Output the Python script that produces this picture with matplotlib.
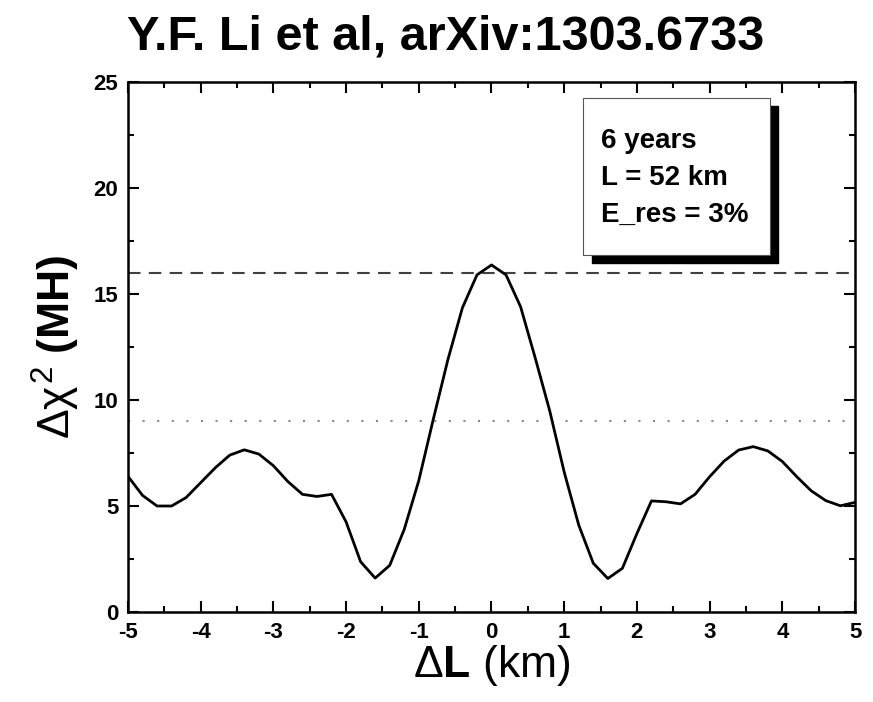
import matplotlib
matplotlib.use("Agg")
import matplotlib.pyplot as plt
from matplotlib.patches import Rectangle
from matplotlib.ticker import MultipleLocator

plt.rcParams['font.family'] = ['Liberation Sans', 'DejaVu Sans']
plt.rcParams['axes.unicode_minus'] = False
plt.rcParams['mathtext.fontset'] = 'custom'
plt.rcParams['mathtext.rm'] = 'Liberation Sans'
plt.rcParams['mathtext.it'] = 'Liberation Sans'
plt.rcParams['mathtext.bf'] = 'Liberation Sans:bold'

# Delta L (km) and Delta chi^2 (MH)
dL = [-5.0, -4.8, -4.6, -4.4, -4.2, -4.0, -3.8, -3.6, -3.4, -3.2, -3.0,
      -2.8, -2.6, -2.4, -2.2, -2.0, -1.8, -1.6, -1.4, -1.2, -1.0,
      -0.8, -0.6, -0.4, -0.2, 0.0, 0.2, 0.4, 0.6, 0.8, 1.0,
      1.2, 1.4, 1.6, 1.8, 2.0, 2.2, 2.4, 2.6, 2.8, 3.0,
      3.2, 3.4, 3.6, 3.8, 4.0, 4.2, 4.4, 4.6, 4.8, 5.0]
chi2 = [6.4, 5.5, 5.0, 5.0, 5.4, 6.1, 6.8, 7.4, 7.65, 7.45, 6.9,
        6.15, 5.55, 5.45, 5.55, 4.25, 2.37, 1.6, 2.2, 3.9, 6.2,
        9.1, 11.9, 14.35, 15.9, 16.37, 15.9, 14.4, 12.0, 9.5, 6.6,
        4.1, 2.3, 1.58, 2.06, 3.7, 5.24, 5.2, 5.1, 5.55, 6.38,
        7.12, 7.64, 7.8, 7.6, 7.1, 6.38, 5.71, 5.25, 5.01, 5.17]

cl_4sigma = 16
cl_3sigma = 9
info_lines = ["6 years", "L = 52 km", "E_res = 3%"]

fig = plt.figure(figsize=(8.73, 7.02), dpi=100)
ax = fig.add_axes([0.1466, 0.1282, 0.8328, 0.755])

ax.plot(dL, chi2, color='black', lw=2.0, zorder=3)
ax.axhline(cl_4sigma, color='#404040', lw=1.5, ls=(0, (6, 4)), zorder=2)
ax.axhline(cl_3sigma, color='#888888', lw=1.5, ls=(0, (1, 6)), zorder=2)

ax.set_xlim(-5, 5)
ax.set_ylim(0, 25)
ax.xaxis.set_major_locator(MultipleLocator(1))
ax.xaxis.set_minor_locator(MultipleLocator(0.5))
ax.yaxis.set_major_locator(MultipleLocator(5))
ax.yaxis.set_minor_locator(MultipleLocator(2.5))
ax.tick_params(which='both', direction='in', top=True, right=True, width=1.5)
ax.tick_params(which='major', length=8, labelsize=16, pad=7)
ax.tick_params(which='minor', length=4)
for lab in ax.get_xticklabels() + ax.get_yticklabels():
    lab.set_fontweight('bold')
for sp in ax.spines.values():
    sp.set_linewidth(1.8)

ax.set_xlabel(r'$\Delta\mathbf{L}$ (km)', fontsize=32, labelpad=0)
ax.set_ylabel(r'$\Delta\chi^{2}$ $\mathbf{(MH)}$', fontsize=32, labelpad=8)
fig.text(0.51, 0.948, "Y.F. Li et al, arXiv:1303.6733", fontsize=35,
         fontweight='bold', ha='center', va='center')

# info box with drop shadow
ax.add_patch(Rectangle((0.638, 0.659), 0.256, 0.296, transform=ax.transAxes,
                       facecolor='black', edgecolor='black', zorder=4))
ax.add_patch(Rectangle((0.626, 0.674), 0.257, 0.296, transform=ax.transAxes,
                       facecolor='white', edgecolor='#555555', lw=0.8, zorder=5))
for i, line in enumerate(info_lines):
    ax.text(0.650, 0.888 - i * 0.069, line, transform=ax.transAxes,
            fontsize=20, fontweight='bold', va='center', ha='left', zorder=6)

fig.savefig("out.png", dpi=100)
